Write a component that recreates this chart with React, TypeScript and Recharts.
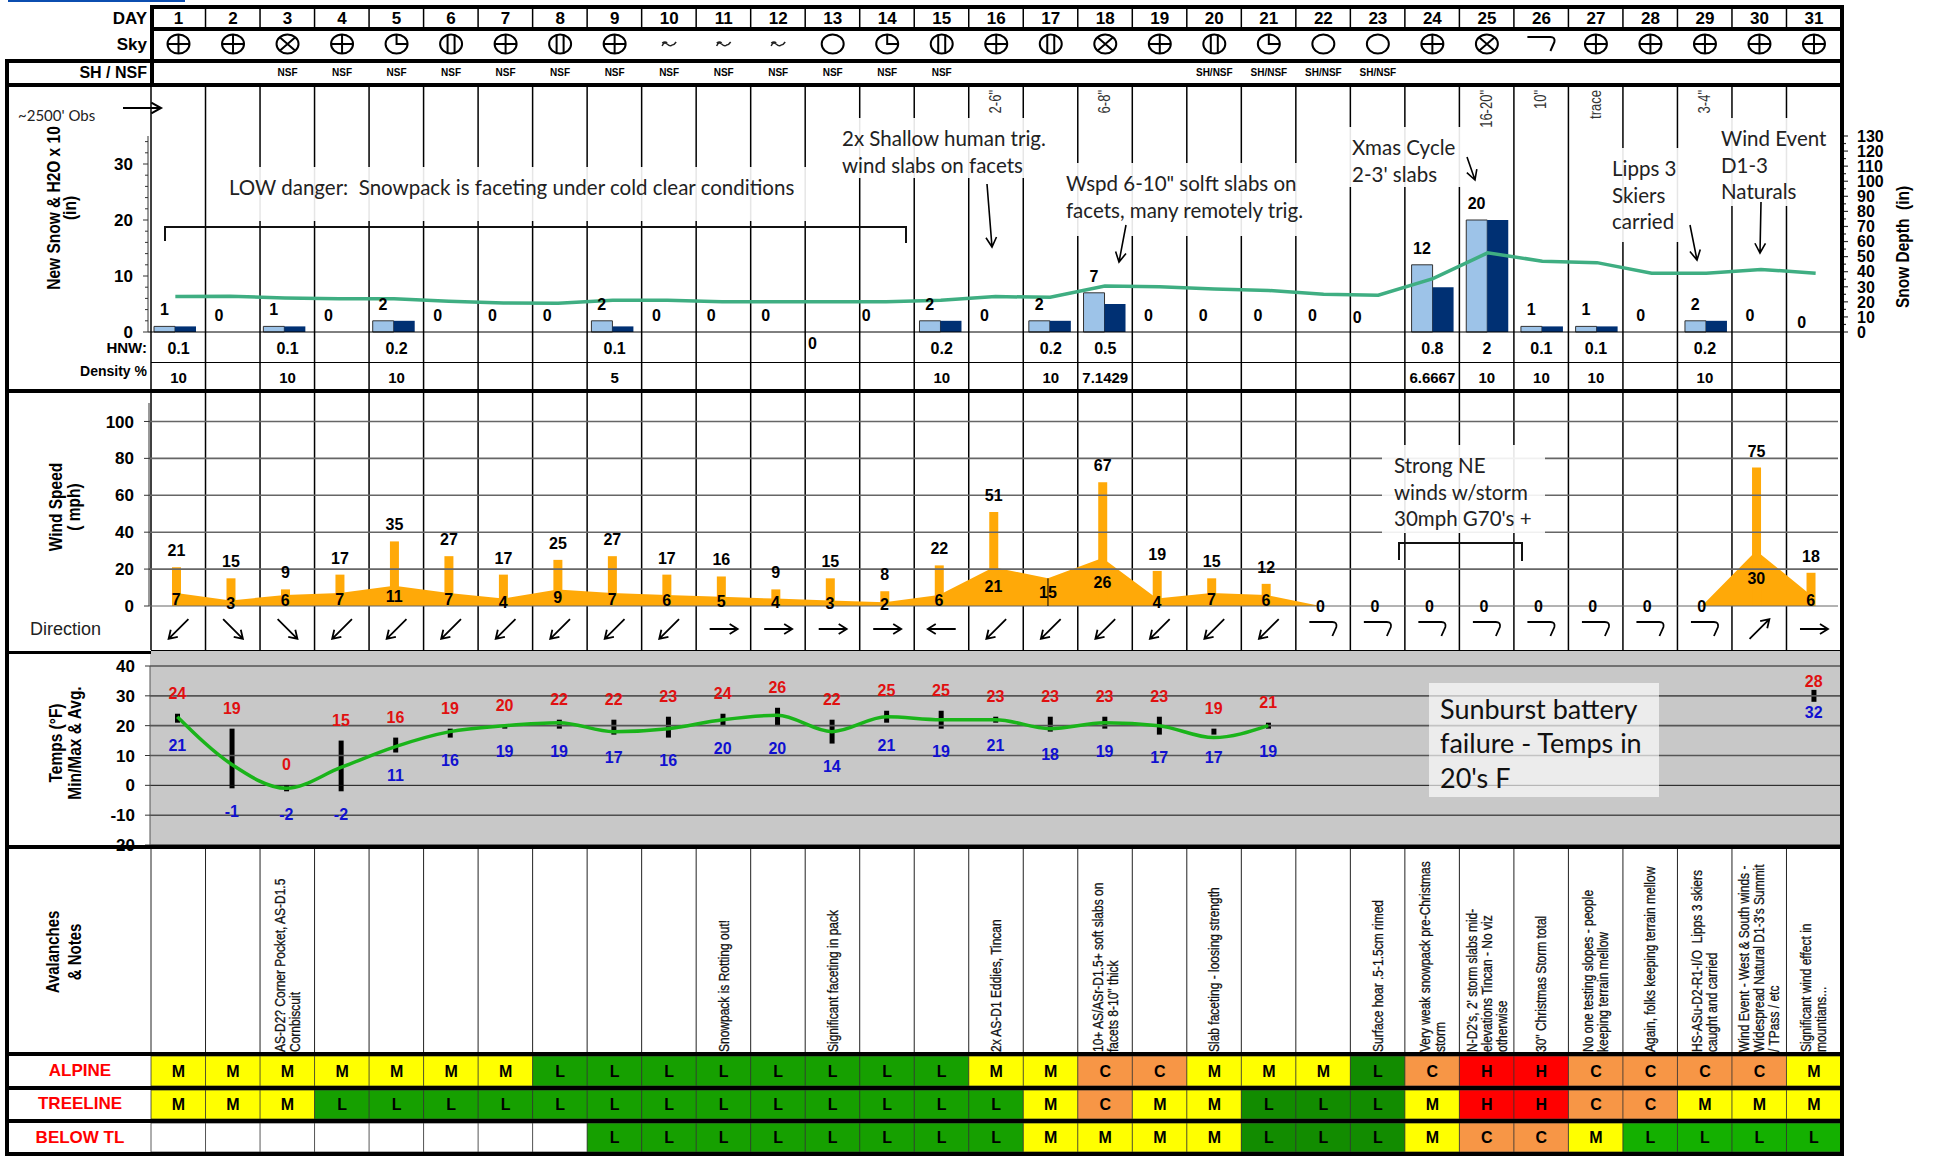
import React from 'react';
import {
  ComposedChart,
  Bar,
  Line,
  Area,
  Cell,
  XAxis,
  YAxis,
  LabelList,
  ReferenceLine,
} from 'recharts';

const days = [1, 2, 3, 4, 5, 6, 7, 8, 9, 10, 11, 12, 13, 14, 15, 16, 17, 18, 19, 20, 21, 22, 23, 24, 25, 26, 27, 28, 29, 30, 31];
const columnEdges = [0, ...days];

// B broken, O obscured, S scattered, K overcast, F fog, C clear, W calm mark
const sky = ['B', 'B', 'O', 'B', 'S', 'K', 'B', 'K', 'B', 'F', 'F', 'F', 'C', 'S', 'K', 'B', 'K', 'O', 'B', 'K', 'S', 'C', 'C', 'B', 'O', 'W', 'B', 'B', 'B', 'B', 'B'];
const shNsf = ['', '', 'NSF', 'NSF', 'NSF', 'NSF', 'NSF', 'NSF', 'NSF', 'NSF', 'NSF', 'NSF', 'NSF', 'NSF', 'NSF', '', '', '', '', 'SH/NSF', 'SH/NSF', 'SH/NSF', 'SH/NSF', '', '', '', '', '', '', '', ''];
const slabDepth = ['', '', '', '', '', '', '', '', '', '', '', '', '', '', '', '2-6"', '', '6-8"', '', '', '', '', '', '', '16-20"', '10"', 'trace', '', '3-4"', '', ''];

const newSnow = [1, 0, 1, 0, 2, 0, 0, 0, 2, 0, 0, 0, 0, 0, 2, 0, 2, 7, 0, 0, 0, 0, 0, 12, 20, 1, 1, 0, 2, 0, 0];
const h2oTimes10 = [1, 0, 1, 0, 2, 0, 0, 0, 1, 0, 0, 0, 0, 0, 2, 0, 2, 5, 0, 0, 0, 0, 0, 8, 20, 1, 1, 0, 2, 0, 0];
const snowDepth = [23.5, 23.7, 22.6, 22, 22, 20.4, 19.3, 19, 21, 21, 20, 20, 20, 20, 21, 23.5, 23, 30.5, 30, 28.5, 27.5, 25, 24.4, 35.4, 52.5, 47, 46, 39, 39, 41.5, 39];
const hnw = ['0.1', '', '0.1', '', '0.2', '', '', '', '0.1', '', '', '', '', '', '0.2', '', '0.2', '0.5', '', '', '', '', '', '0.8', '2', '0.1', '0.1', '', '0.2', '', ''];
const density = ['10', '', '10', '', '10', '', '', '', '5', '', '', '', '', '', '10', '', '10', '7.1429', '', '', '', '', '', '6.6667', '10', '10', '10', '', '10', '', ''];

const windGust = [21, 15, 9, 17, 35, 27, 17, 25, 27, 17, 16, 9, 15, 8, 22, 51, null, 67, 19, 15, 12, null, null, null, null, null, null, null, null, 75, 18];
const windAvg = [7, 3, 6, 7, 11, 7, 4, 9, 7, 6, 5, 4, 3, 2, 6, 21, 15, 26, 4, 7, 6, 0, 0, 0, 0, 0, 0, 0, 0, 30, 6];
const windDir = ['SW', 'SE', 'SE', 'SW', 'SW', 'SW', 'SW', 'SW', 'SW', 'SW', 'E', 'E', 'E', 'E', 'W', 'SW', 'SW', 'SW', 'SW', 'SW', 'SW', 'calm', 'calm', 'calm', 'calm', 'calm', 'calm', 'calm', 'calm', 'NE', 'E'];

const tempMax = [24, 19, 0, 15, 16, 19, 20, 22, 22, 23, 24, 26, 22, 25, 25, 23, 23, 23, 23, 19, 21, null, null, null, null, null, null, null, null, null, 28];
const tempMin = [21, -1, -2, -2, 11, 16, 19, 19, 17, 16, 20, 20, 14, 21, 19, 21, 18, 19, 17, 17, 19, null, null, null, null, null, null, null, null, null, 32];
const tempAvg = [23, 7, -1, 6, 13, 18, 20, 21, 18, 19, 22, 23.5, 18, 23, 22, 22, 19, 21, 20, 16, 20, null, null, null, null, null, null, null, null, null, null];

const notes: Record<number, string[]> = {
  3: ['AS-D2? Corner Pocket, AS-D1.5', 'Cornbiscuit'],
  11: ['Snowpack is Rotting out!'],
  13: ['Significant faceting in pack'],
  16: ['2x AS-D1 Eddies, Tincan'],
  18: ['10+ AS/ASr-D1.5+ soft slabs on', 'facets 8-10" thick'],
  20: ['Slab faceting - loosing strength'],
  23: ['Surface hoar .5-1.5cm rimed'],
  24: ['Very weak snowpack pre-Christmas', 'storm'],
  25: ["N-D2's, 2' storm slabs mid-", 'elevations Tincan - No viz', 'otherwise'],
  26: ['30" Christmas Storm total'],
  27: ['No one testing slopes - people', 'keeping terrain mellow'],
  28: ['Again, folks keeping terrain mellow'],
  29: ['HS-ASu-D2-R1-I/O  Lipps 3 skiers', 'caught and carried'],
  30: ['Wind Event - West & South winds -', "Widespread Natural D1-3's Summit", '/ TPass / etc'],
  31: ['Significant wind effect in', 'mountians...'],
};

// d and b are the darker and brighter greens of a Low cell
const dangerAlpine = 'MMMMMMMLLLLLLLLMMCCMMMdCHHCCCCM'.split('');
const dangerTreeline = 'MMMLLLLLLLLLLLLLMCMMdddMHHCCMMM'.split('');
const dangerBelow = '        LLLLLLLLMMMMdddMCCMbbbb'.split('');
const dangerFill: Record<string, string> = { M: '#ffff00', L: '#16a000', d: '#128c00', b: '#14b000', C: '#f79646', H: '#ff0000', ' ': '#ffffff' };
const dangerText: Record<string, string> = { M: 'M', L: 'L', d: 'L', b: 'L', C: 'C', H: 'H', ' ': '' };

const WIDTH = 1933;
const NARROW = "'Liberation Sans Narrow','Liberation Sans',Arial,sans-serif";
const ARIAL = "'Liberation Sans',Arial,sans-serif";
const CALIBRI = "Lato,'Open Sans',sans-serif";

const textRows = (values: (string | number)[]) => days.map((day, i) => ({ day, full: 1, text: values[i] }));

const rowText = (fontSize: number, fill = '#000') => (p: any) =>
  p.value === '' || p.value == null ? null : (
    <text x={p.x + p.width / 2} y={p.y + p.height / 2} dy="0.36em" textAnchor="middle" fontFamily={NARROW} fontWeight="bold" fontSize={fontSize} fill={fill}>
      {p.value}
    </text>
  );

const hook = 'M-14,-7 H9 Q14,-7 13,-2 L9,7';

const skyIcon = (p: any) => {
  const cx = p.x + p.width / 2;
  const cy = p.y + p.height / 2;
  const code = p.value;
  const common = { fill: 'none', stroke: '#000', strokeWidth: 2 };
  if (code === 'W') return <path transform={`translate(${cx},${cy})`} d={hook} {...common} />;
  if (code === 'F') {
    return <path transform={`translate(${cx},${cy})`} d="M-7,2 Q-5,-3 -2,0 T3,1 Q5,1 7,-2 M-7,-1 Q-4,-3 -2,-1" fill="none" stroke="#222" strokeWidth={1.5} />;
  }
  return (
    <g transform={`translate(${cx},${cy})`} {...common}>
      <ellipse rx={11} ry={9.5} />
      {code === 'B' && <path d="M-11,0 H11 M0,-9.5 V9.5" />}
      {code === 'O' && <path d="M-7.5,-6.5 L7.5,6.5 M-7.5,6.5 L7.5,-6.5" />}
      {code === 'S' && <path d="M0,-9.5 V0 H11" />}
      {code === 'K' && <path d="M-3.5,-8.8 V8.8 M3.5,-8.8 V8.8" />}
    </g>
  );
};

const windAngle: Record<string, number> = { E: 0, SE: 45, SW: 135, W: 180, NE: -45 };

const windIcon = (p: any) => {
  const cx = p.x + p.width / 2;
  const cy = p.y + p.height / 2;
  if (p.value === 'calm') return <path transform={`translate(${cx},${cy})`} d={hook} fill="none" stroke="#000" strokeWidth={1.8} />;
  return <path transform={`translate(${cx},${cy}) rotate(${windAngle[p.value]})`} d="M-14,0 H14 M6,-5 L14,0 L6,5" fill="none" stroke="#000" strokeWidth={1.8} />;
};

const depthText = (p: any) =>
  !p.value ? null : (
    <text transform={`translate(${p.x + p.width / 2 + 5},${p.y + 3}) rotate(-90) scale(1,1.25)`} textAnchor="end" fontFamily={ARIAL} fontSize={13} fill="#333">
      {p.value}
    </text>
  );

const noteText = (p: any) => {
  const lines = notes[p.value];
  if (!lines) return null;
  const cx = p.x + p.width / 2;
  const base = p.y + p.height - 1;
  return (
    <g>
      {lines.map((line, i) => (
        <text key={i} transform={`translate(${cx + (i - (lines.length - 1) / 2) * 15 + 5},${base}) rotate(-90) scale(1,1.25)`} fontFamily={ARIAL} fontSize={12} fill="#111" stroke="#111" strokeWidth={0.25} style={{ whiteSpace: 'pre' }}>
          {line}
        </text>
      ))}
    </g>
  );
};

// one strip of 31 day cells, drawn as full height bars
const StripRow = ({ top, height, rows, fills, content }: any) => (
  <div style={{ position: 'absolute', left: 0, top }}>
    <ComposedChart width={WIDTH} height={height} data={rows} margin={{ top: 0, right: 92, bottom: 0, left: 151 }} barCategoryGap={0} barGap={0}>
      <XAxis dataKey="day" hide />
      <YAxis hide domain={[0, 1]} />
      <Bar dataKey="full" fill="none" isAnimationActive={false}>
        {fills && fills.map((fill: string, i: number) => <Cell key={i} fill={fill} stroke="#333" strokeWidth={0.8} />)}
        <LabelList dataKey="text" content={content} />
      </Bar>
    </ComposedChart>
  </div>
);

const ColumnRules = ({ top, height, strokeWidth, stroke }: any) => (
  <div style={{ position: 'absolute', left: 0, top }}>
    <ComposedChart width={WIDTH} height={height} data={days.map((day) => ({ day, full: 1 }))} margin={{ top: 0, right: 92, bottom: 0, left: 151 }}>
      <XAxis type="number" dataKey="day" domain={[0, 31]} hide />
      <YAxis hide domain={[0, 1]} />
      <Line dataKey="full" stroke="none" dot={false} isAnimationActive={false} />
      {columnEdges.map((edge) => (
        <ReferenceLine key={edge} x={edge} stroke={stroke} strokeWidth={strokeWidth} />
      ))}
    </ComposedChart>
  </div>
);

const leftTick = (isMajor: (v: number) => boolean) => (p: any) => {
  const v = p.payload.value;
  const major = isMajor(v);
  return (
    <g>
      <line x1={p.x - (major ? 5 : 3)} x2={p.x} y1={p.y} y2={p.y} stroke="#333" strokeWidth={1} />
      {major && (
        <text x={p.x - 15} y={p.y} dy="0.36em" textAnchor="end" fontFamily={NARROW} fontWeight="bold" fontSize={17} fill="#000">
          {v}
        </text>
      )}
    </g>
  );
};

const rightTick = (p: any) => {
  const v = p.payload.value;
  const major = v % 10 === 0;
  return (
    <g>
      <line x1={p.x} x2={p.x + (major ? 5 : 3)} y1={p.y} y2={p.y} stroke="#333" strokeWidth={1.2} />
      {major && (
        <text x={p.x + 14} y={p.y} dy="0.36em" fontFamily={NARROW} fontWeight="bold" fontSize={16} fill="#000">
          {v}
        </text>
      )}
    </g>
  );
};

// labels that sit away from their bar in the reference
const snowLabelNudge: Record<number, number[]> = { 12: [-8, 28], 13: [-9, 0], 22: [-10, 2], 30: [-3, 7] };

// drawn on a hidden line so that the zero days get a label too; it sits over the light bar
const snowLabel = (p: any) => {
  const [dx, dy] = snowLabelNudge[p.index] || [0, 0];
  return (
    <text x={p.x - 11 + dx} y={p.y - 17 + dy} dy="0.36em" textAnchor="middle" fontFamily={NARROW} fontWeight="bold" fontSize={16} fill="#000">
      {p.value}
    </text>
  );
};

const snowRows = days.map((day, i) => ({ day, newSnow: newSnow[i], h2o: h2oTimes10[i], depth: snowDepth[i] }));
const windRows = days.map((day, i) => ({ day, gust: windGust[i], avg: windAvg[i], avgMid: windAvg[i] / 2 }));
const tempRows = days.map((day, i) => ({
  day,
  high: tempMax[i],
  low: tempMin[i],
  avg: tempAvg[i],
  range: tempMax[i] == null ? null : [tempMin[i], tempMax[i]],
}));

const snowLeftTicks = [0, 2, 4, 6, 8, 10, 12, 14, 16, 18, 20, 22, 24, 26, 28, 30, 32, 34];
const snowRightTicks = [0, 5, 10, 15, 20, 25, 30, 35, 40, 45, 50, 55, 60, 65, 70, 75, 80, 85, 90, 95, 100, 105, 110, 115, 120, 125, 130];
const windTicks = [0, 20, 40, 60, 80, 100];
const tempTicks = [-20, -10, 0, 10, 20, 30, 40];

const numberFont = { fontFamily: NARROW, fontWeight: 'bold', fontSize: 16 };

const annotations = [
  { x: 229, y: 188, box: [220, 167, 588, 54], lines: ['LOW danger:  Snowpack is faceting under cold clear conditions'] },
  { x: 842, y: 139, box: [833, 118, 214, 60], lines: ['2x Shallow human trig.', 'wind slabs on facets'] },
  { x: 1066, y: 184, box: [1056, 163, 256, 73], lines: ['Wspd 6-10" solft slabs on', 'facets, many remotely trig.'] },
  { x: 1352, y: 148, box: [1349, 127, 112, 60], lines: ['Xmas Cycle', "2-3' slabs"] },
  { x: 1612, y: 169, box: [1608, 148, 71, 94], lines: ['Lipps 3', 'Skiers', 'carried'] },
  { x: 1721, y: 139, box: [1718, 118, 112, 88], lines: ['Wind Event', 'D1-3', 'Naturals'] },
  { x: 1394, y: 466, box: [1382, 445, 163, 88], lines: ['Strong NE', 'winds w/storm', "30mph G70's +"] },
];

const annotationArrows = [
  [123, 108, 161, 108],
  [987, 184, 992, 247],
  [1126, 225, 1119, 262],
  [1467, 157, 1475, 180],
  [1690, 225, 1697, 260],
  [1761, 202, 1760, 253],
];

const brackets = ['M165,241 V227 H906 V243', 'M1399,560 V543 H1522 V561'];

const axisCaption = (text: string, x: number, y: number, size = 15.5, stretch = 1.15) => (
  <text key={text} transform={`translate(${x},${y}) rotate(-90) scale(1,${stretch})`} textAnchor="middle" fontFamily={ARIAL} fontWeight="bold" fontSize={size} style={{ whiteSpace: 'pre' }}>
    {text}
  </text>
);

const rowCaptions = [
  { text: 'DAY', y: 18, size: 17 },
  { text: 'Sky', y: 44, size: 17 },
  { text: 'SH / NSF', y: 72, size: 16 },
  { text: 'HNW:', y: 348, size: 15 },
  { text: 'Density %', y: 371, size: 14 },
];

const dangerCaptions = [
  { text: 'ALPINE', y: 1070 },
  { text: 'TREELINE', y: 1103 },
  { text: 'BELOW TL', y: 1137 },
];

// heavy frame: x, y, width, height
const frameBars = [
  [150, 5, 1694, 4],
  [150, 27, 1694, 4],
  [5, 59, 1839, 4],
  [5, 83, 1839, 4],
  [5, 389, 1839, 4],
  [5, 651, 146, 3],
  [151, 650, 1690, 1],
  [5, 845, 1839, 4],
  [5, 1052, 1839, 4],
  [5, 1086, 1839, 4],
  [5, 1119, 1839, 4],
  [5, 1152, 1839, 4],
  [5, 59, 4, 1097],
  [150, 5, 4, 82],
  [1840, 5, 4, 1151],
  [151, 362, 1690, 1],
];

export default function App() {
  return (
    <div style={{ position: 'absolute', left: 0, top: 0, width: WIDTH, height: 1159, background: '#fff', overflow: 'hidden' }}>
      <div style={{ position: 'absolute', left: 8, top: 0, width: 177, height: 2, background: '#0b4db0' }} />

      <ColumnRules top={5} height={24} strokeWidth={1.5} stroke="#000" />
      <ColumnRules top={85} height={565} strokeWidth={1.5} stroke="#000" />
      <ColumnRules top={849} height={204} strokeWidth={1} stroke="#222" />

      <StripRow top={9} height={18} rows={textRows(days)} content={rowText(17)} />
      <StripRow top={30} height={28} rows={textRows(sky)} content={skyIcon} />
      <StripRow top={62} height={20} rows={textRows(shNsf)} content={rowText(10)} />
      <StripRow top={87} height={49} rows={textRows(slabDepth)} content={depthText} />

      {/* new snow, water and depth */}
      <div style={{ position: 'absolute', left: 0, top: 120 }}>
        <ComposedChart width={WIDTH} height={246} data={snowRows} margin={{ top: 16, right: 0, bottom: 34, left: 0 }} barGap={0}>
          <XAxis dataKey="day" hide />
          <YAxis yAxisId="snow" width={148} domain={[0, 35]} ticks={snowLeftTicks} interval={0} tickSize={0} tickMargin={0} tickLine={false} axisLine={{ stroke: '#333' }} tick={leftTick((v) => v % 10 === 0)} />
          <YAxis yAxisId="depth" orientation="right" width={90} domain={[0, 130]} ticks={snowRightTicks} interval={0} tickSize={0} tickMargin={0} tickLine={false} axisLine={{ stroke: '#000', strokeWidth: 2 }} tick={rightTick} />
          <ReferenceLine yAxisId="snow" y={0} stroke="#000" strokeWidth={1} />
          <Bar yAxisId="snow" dataKey="newSnow" barSize={21} fill="#9dc3e8" stroke="#333" strokeWidth={1} isAnimationActive={false} />
          <Bar yAxisId="snow" dataKey="h2o" barSize={21} fill="#003073" isAnimationActive={false} />
          <Line yAxisId="depth" dataKey="depth" type="linear" stroke="#3fae82" strokeWidth={3.5} dot={false} isAnimationActive={false} />
          <Line yAxisId="snow" dataKey="newSnow" stroke="none" dot={false} isAnimationActive={false}>
            <LabelList dataKey="newSnow" content={snowLabel} />
          </Line>
        </ComposedChart>
      </div>

      <StripRow top={333} height={30} rows={textRows(hnw)} content={rowText(16)} />
      <StripRow top={364} height={27} rows={textRows(density)} content={rowText(15)} />

      {/* wind speed */}
      <div style={{ position: 'absolute', left: 0, top: 391 }}>
        <ComposedChart width={WIDTH} height={231} data={windRows} margin={{ top: 12, right: 95, bottom: 16, left: 0 }}>
          <XAxis dataKey="day" hide />
          <YAxis width={149} domain={[0, 110]} ticks={windTicks} interval={0} tickSize={0} tickMargin={0} tickLine={false} axisLine={{ stroke: '#333' }} tick={leftTick(() => true)} />
          {windTicks.map((t) => (
            <ReferenceLine key={t} y={t} stroke="#666" strokeWidth={t === 0 ? 1 : 1.6} />
          ))}
          <Area dataKey="avg" type="linear" stroke="none" fill="#ffa908" fillOpacity={1} isAnimationActive={false} />
          <Bar dataKey="gust" barSize={9} fill="#ffa908" isAnimationActive={false}>
            <LabelList dataKey="gust" position="top" offset={11} fill="#000" {...numberFont} />
          </Bar>
          <ReferenceLine segment={[{ x: 17, y: 0 }, { x: 17, y: 15 }]} stroke="#000" strokeWidth={1} />
          <Line dataKey="avgMid" stroke="none" dot={false} isAnimationActive={false}>
            <LabelList dataKey="avg" position="center" fill="#000" {...numberFont} />
          </Line>
        </ComposedChart>
      </div>

      <StripRow top={608} height={42} rows={textRows(windDir)} content={windIcon} />

      {/* temperatures */}
      <div style={{ position: 'absolute', left: 150, top: 651, width: 1691, height: 195, background: '#c8c8c8' }} />
      <div style={{ position: 'absolute', left: 0, top: 652 }}>
        <ComposedChart width={WIDTH} height={207} data={tempRows} margin={{ top: 14, right: 92, bottom: 14, left: 0 }}>
          <XAxis dataKey="day" hide />
          <YAxis width={150} domain={[-20, 40]} ticks={tempTicks} interval={0} tickSize={0} tickMargin={0} tickLine={false} axisLine={{ stroke: '#555' }} tick={leftTick(() => true)} />
          {tempTicks.map((t) => (
            <ReferenceLine key={t} y={t} stroke={t > 0 ? '#555' : '#111'} strokeWidth={t > 0 ? 1.6 : 1} />
          ))}
          <Bar dataKey="range" barSize={5} fill="#000" isAnimationActive={false} />
          <Line dataKey="avg" type="monotone" stroke="#1ab41a" strokeWidth={3.5} dot={false} isAnimationActive={false} />
          <Line dataKey="high" stroke="none" dot={false} isAnimationActive={false}>
            <LabelList dataKey="high" position="top" offset={15} fill="#e01010" {...numberFont} />
          </Line>
          <Line dataKey="low" stroke="none" dot={false} isAnimationActive={false}>
            <LabelList dataKey="low" position="bottom" offset={17} fill="#1010d0" {...numberFont} />
          </Line>
        </ComposedChart>
      </div>

      <StripRow top={849} height={204} rows={textRows(days)} content={noteText} />

      <StripRow top={1056} height={30} rows={textRows(dangerAlpine.map((c) => dangerText[c]))} fills={dangerAlpine.map((c) => dangerFill[c])} content={rowText(16)} />
      <StripRow top={1090} height={29} rows={textRows(dangerTreeline.map((c) => dangerText[c]))} fills={dangerTreeline.map((c) => dangerFill[c])} content={rowText(16)} />
      <StripRow top={1123} height={29} rows={textRows(dangerBelow.map((c) => dangerText[c]))} fills={dangerBelow.map((c) => dangerFill[c])} content={rowText(16)} />

      {/* hand placed notes and captions */}
      <svg width={WIDTH} height={1159} style={{ position: 'absolute', left: 0, top: 0 }}>
        {annotations.map((a) => (
          <g key={a.x}>
            <rect x={a.box[0]} y={a.box[1]} width={a.box[2]} height={a.box[3]} fill="#fff" fillOpacity={0.9} />
            {a.lines.map((line, i) => (
              <text key={i} x={a.x} y={a.y + i * 26.5} dy="0.36em" fontFamily={CALIBRI} fontSize={20.5} fill="#222" style={{ whiteSpace: 'pre' }}>
                {line}
              </text>
            ))}
          </g>
        ))}
        <rect x={1429} y={683} width={230} height={114} fill="#fff" fillOpacity={0.65} />
        {['Sunburst battery', 'failure - Temps in', "20's F"].map((line, i) => (
          <text key={i} x={1440} y={709 + i * 34.5} dy="0.36em" fontFamily={CALIBRI} fontSize={27} fill="#111">
            {line}
          </text>
        ))}
        <text x={18} y={116} dy="0.36em" fontFamily={CALIBRI} fontSize={15} fill="#222">
          ~2500' Obs
        </text>

        {annotationArrows.map(([x1, y1, x2, y2], i) => {
          const a = Math.atan2(y2 - y1, x2 - x1);
          const arm = (d: number) => `${x2 - 11 * Math.cos(a + d)},${y2 - 11 * Math.sin(a + d)}`;
          return <path key={i} d={`M${x1},${y1} L${x2},${y2} M${arm(0.5)} L${x2},${y2} L${arm(-0.5)}`} fill="none" stroke="#000" strokeWidth={i === 0 ? 2 : 1.6} />;
        })}
        {brackets.map((d) => (
          <path key={d} d={d} fill="none" stroke="#111" strokeWidth={2} />
        ))}

        {axisCaption('New Snow & H2O x 10', 60, 208)}
        {axisCaption('(in)', 76, 208)}
        {axisCaption('Wind Speed', 62, 507)}
        {axisCaption('( mph)', 80, 507)}
        {axisCaption('Temps (°F)', 62, 743)}
        {axisCaption('Min/Max & Avg.', 81, 743)}
        {axisCaption('Avalanches', 59, 952, 15, 1.2)}
        {axisCaption('& Notes', 81, 952, 15, 1.2)}
        {axisCaption('Snow Depth  (in)', 1909, 247)}

        {rowCaptions.map((c) => (
          <text key={c.text} x={147} y={c.y} dy="0.36em" textAnchor="end" fontFamily={NARROW} fontWeight="bold" fontSize={c.size}>
            {c.text}
          </text>
        ))}
        <text x={30} y={629} dy="0.36em" fontFamily={NARROW} fontSize={18} fill="#222">
          Direction
        </text>
        {dangerCaptions.map((c) => (
          <text key={c.text} x={80} y={c.y} dy="0.36em" textAnchor="middle" fontFamily={NARROW} fontWeight="bold" fontSize={17} fill="#ff0000">
            {c.text}
          </text>
        ))}
      </svg>

      {frameBars.map(([left, top, width, height], i) => (
        <div key={i} style={{ position: 'absolute', left, top, width, height, background: '#000' }} />
      ))}
    </div>
  );
}
